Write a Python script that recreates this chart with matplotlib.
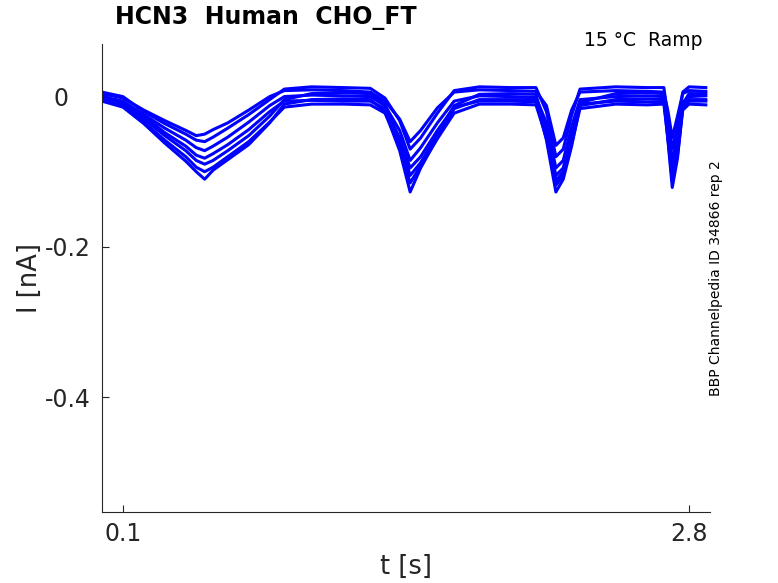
import numpy as np
import matplotlib
matplotlib.use("Agg")
import matplotlib.pyplot as plt
import matplotlib.transforms as mtransforms

# time nodes (s)
t_nodes = [0.00, 0.10, 0.20, 0.30, 0.40, 0.45, 0.49, 0.53, 0.60, 0.70,
           0.80, 0.87, 1.00, 1.15, 1.28, 1.35, 1.42, 1.47, 1.52, 1.60,
           1.68, 1.80, 1.95, 2.07, 2.12, 2.165, 2.20, 2.24, 2.28, 2.45,
           2.60, 2.68, 2.70, 2.72, 2.745, 2.77, 2.80, 2.88]

# current sweeps (nA)
sweep_a = [0.004, -0.002, -0.018, -0.032, -0.045, -0.052, -0.050, -0.044, -0.035, -0.018,
           0.000, 0.008, 0.009, 0.008, 0.006, -0.006, -0.030, -0.060, -0.045, -0.015,
           0.006, 0.009, 0.008, 0.007, -0.012, -0.065, -0.055, -0.018, 0.006, 0.008,
           0.007, 0.006, -0.020, -0.055, -0.026, 0.004, 0.008, 0.007]
sweep_b = [0.006, 0.000, -0.020, -0.036, -0.050, -0.058, -0.060, -0.054, -0.042, -0.024,
           -0.004, 0.010, 0.013, 0.012, 0.011, -0.002, -0.032, -0.070, -0.055, -0.022,
           0.008, 0.013, 0.012, 0.012, -0.020, -0.080, -0.070, -0.025, 0.010, 0.013,
           0.012, 0.012, -0.030, -0.070, -0.040, 0.006, 0.013, 0.012]
sweep_c = [0.000, -0.006, -0.024, -0.042, -0.058, -0.068, -0.072, -0.066, -0.054, -0.034,
           -0.012, 0.000, 0.002, 0.001, 0.000, -0.012, -0.045, -0.085, -0.068, -0.035,
           -0.006, 0.001, 0.000, -0.001, -0.035, -0.095, -0.085, -0.040, -0.004, 0.000,
           0.001, 0.000, -0.040, -0.085, -0.055, -0.008, 0.000, 0.001]
sweep_d = [-0.002, -0.008, -0.026, -0.048, -0.066, -0.078, -0.082, -0.076, -0.064, -0.044,
           -0.020, -0.006, -0.005, -0.006, -0.006, -0.016, -0.055, -0.095, -0.080, -0.045,
           -0.014, -0.006, -0.006, -0.007, -0.045, -0.105, -0.095, -0.050, -0.010, -0.006,
           -0.007, -0.007, -0.048, -0.098, -0.065, -0.012, -0.006, -0.006]
sweep_e = [0.002, -0.010, -0.030, -0.052, -0.072, -0.085, -0.090, -0.085, -0.072, -0.052,
           -0.026, -0.004, 0.004, 0.005, 0.004, -0.010, -0.058, -0.105, -0.088, -0.050,
           -0.012, 0.003, 0.004, 0.003, -0.050, -0.112, -0.100, -0.058, -0.008, 0.004,
           0.005, 0.004, -0.055, -0.105, -0.072, -0.010, 0.004, 0.004]
sweep_f = [-0.004, -0.013, -0.034, -0.058, -0.080, -0.094, -0.100, -0.094, -0.080, -0.060,
           -0.034, -0.014, -0.010, -0.010, -0.011, -0.022, -0.066, -0.115, -0.092, -0.056,
           -0.022, -0.010, -0.010, -0.011, -0.055, -0.118, -0.105, -0.063, -0.016, -0.010,
           -0.011, -0.010, -0.058, -0.112, -0.078, -0.018, -0.010, -0.011]
sweep_g = [-0.006, -0.014, -0.036, -0.062, -0.086, -0.100, -0.110, -0.098, -0.084, -0.064,
           -0.035, -0.010, -0.004, -0.003, -0.004, -0.020, -0.072, -0.127, -0.095, -0.055,
           -0.016, -0.004, -0.004, -0.004, -0.058, -0.127, -0.110, -0.066, -0.012, -0.004,
           -0.003, -0.004, -0.060, -0.121, -0.082, -0.014, -0.004, -0.004]
sweeps = [sweep_a, sweep_b, sweep_c, sweep_d, sweep_e, sweep_f, sweep_g]

x_ticks = [0.1, 2.8]
x_tick_labels = ["0.1", "2.8"]
y_ticks = [-0.4, -0.2, 0]
y_tick_labels = ["-0.4", "-0.2", "0"]

plt.rcParams['font.family'] = ['DejaVu Sans']
ink = (0.15, 0.15, 0.15)

fig = plt.figure(figsize=(7.78, 5.83), dpi=100)
ax = fig.add_axes([0.131, 0.1218, 0.7816, 0.8027])

for s in sweeps:
    ax.plot(t_nodes, s, color=(0, 0, 1), lw=2.2, solid_joinstyle='round')

ax.set_xlim(0.0, 2.9)
ax.set_ylim(-0.553, 0.07)
ax.set_xticks(x_ticks)
ax.set_xticklabels(x_tick_labels)
ax.set_yticks(y_ticks)
ax.set_yticklabels(y_tick_labels)
ax.tick_params(direction='in', length=5, width=0.8, colors=ink, labelsize=17)
ax.tick_params(axis='y', pad=8)
ax.tick_params(axis='x', pad=7)

# the "0" label sits further left in the reference
zero_shift = mtransforms.ScaledTranslation(-22 / 100, 0, fig.dpi_scale_trans)
ax.get_yticklabels()[-1].set_transform(ax.get_yticklabels()[-1].get_transform() + zero_shift)

for side in ['top', 'right']:
    ax.spines[side].set_visible(False)
for side in ['left', 'bottom']:
    ax.spines[side].set_color(ink)
    ax.spines[side].set_linewidth(0.8)

ax.set_xlabel("t [s]", fontsize=18.5, color=ink, labelpad=6)
ax.set_ylabel("I [nA]", fontsize=18.5, color=ink)
ax.yaxis.set_label_coords(-0.097, 0.5)

fig.text(115 / 778, 1 - 18 / 583, "HCN3  Human  CHO_FT", fontsize=17,
         fontweight='bold', ha='left', va='center')
fig.text(703 / 778, 1 - 41 / 583, "15 \u00b0C  Ramp", fontsize=13.5,
         ha='right', va='center')
fig.text(716 / 778, 1 - 278 / 583, "BBP Channelpedia ID 34866 rep 2",
         fontsize=10, rotation=90, ha='center', va='center')

fig.savefig("out.png", dpi=100)
